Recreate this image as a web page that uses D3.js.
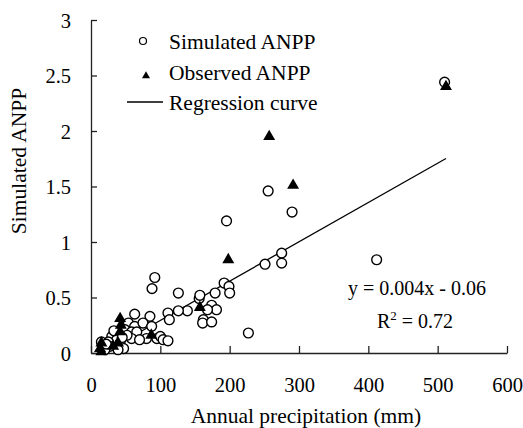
<!DOCTYPE html>
<html>
<head>
<meta charset="utf-8">
<script src="https://cdn.jsdelivr.net/npm/d3@7"></script>
<style>
  html, body { margin: 0; padding: 0; background: #fff; }
  svg { display: block; }
  text { font-family: "Liberation Serif", "Times New Roman", serif; fill: #000; }
</style>
</head>
<body>
<svg id="chart" width="523" height="428"></svg>
<script>
// ---- data ----
const simulatedX = [510, 412, 290, 255.5, 195.5, 275, 275, 251, 227, 192, 199, 200, 179, 156, 157,
  174, 181, 168, 162, 161, 174, 126, 139, 126, 111, 113, 92, 88, 85, 63, 54, 63, 75, 87.5,
  49, 58.6, 66, 80, 95, 100, 104, 111, 30, 37, 25, 42, 47, 39, 27, 15, 58.6, 17, 20,
  22, 33, 52, 70, 45];
const simulatedY = [2.44, 0.84, 1.27, 1.46, 1.19, 0.90, 0.81, 0.80, 0.18, 0.63, 0.60, 0.54, 0.54, 0.49, 0.52,
  0.43, 0.39, 0.39, 0.30, 0.27, 0.28, 0.54, 0.38, 0.38, 0.36, 0.30, 0.68, 0.58, 0.33, 0.35, 0.27, 0.24, 0.27, 0.24,
  0.21, 0.19, 0.19, 0.13, 0.13, 0.15, 0.12, 0.11, 0.15, 0.12, 0.10, 0.09, 0.04, 0.03, 0.06, 0.10, 0.13, 0.06, 0.03,
  0.08, 0.20, 0.16, 0.12, 0.14];
const observedX = [512, 257, 291.5, 198, 157, 87, 42, 43, 42, 39, 32, 15, 13, 15];
const observedY = [2.40, 1.95, 1.51, 0.84, 0.41, 0.16, 0.31, 0.25, 0.19, 0.09, 0.06, 0.09, 0.04, 0.01];
const regressionSlope = 0.00354;
const regressionIntercept = -0.06;
const regressionXRange = [17, 512];
const xTicks = [0, 100, 200, 300, 400, 500, 600];
const yTicks = [0, 0.5, 1, 1.5, 2, 2.5, 3];
const legendLabels = ["Simulated ANPP", "Observed ANPP", "Regression curve"];
const xTitle = "Annual precipitation (mm)";
const yTitle = "Simulated ANPP";
const equationText = "y = 0.004x - 0.06";
const r2Value = "0.72";

// ---- drawing ----
const svg = d3.select("#chart");
const x = d3.scaleLinear().domain([0, 600]).range([91, 507]);
const y = d3.scaleLinear().domain([0, 3]).range([353, 20]);

// axes
const xAxis = d3.axisBottom(x).tickValues(xTicks).tickSizeInner(-7).tickSizeOuter(0).tickPadding(0).tickFormat(d3.format("d"));
const gx = svg.append("g").attr("transform", `translate(0,${y(0)})`).call(xAxis);
gx.select(".domain").attr("stroke", "#222").attr("stroke-width", 1.3);
gx.selectAll(".tick line").attr("stroke", "#222").attr("stroke-width", 1.3);
gx.selectAll(".tick text").attr("font-size", 20.5).attr("font-family", "Liberation Serif").attr("dy", null).attr("y", 39);

const yAxis = d3.axisLeft(y).tickValues(yTicks).tickSizeInner(-6).tickSizeOuter(0).tickPadding(0).tickFormat(d => d3.format("")(d));
const gy = svg.append("g").attr("transform", `translate(${x(0)},0)`).call(yAxis);
gy.select(".domain").attr("stroke", "#222").attr("stroke-width", 1.3);
gy.selectAll(".tick line").attr("stroke", "#222").attr("stroke-width", 1.3);
gy.selectAll(".tick text").attr("font-size", 20.5).attr("font-family", "Liberation Serif").attr("x", -20).attr("dy", "0.35em");

// regression line
const line = d3.line().x(d => x(d)).y(d => y(regressionSlope * d + regressionIntercept));
svg.append("path").datum(regressionXRange).attr("d", line)
  .attr("fill", "none").attr("stroke", "#000").attr("stroke-width", 1.3);

// simulated points
const simData = simulatedX.map((v, i) => ({ x: v, y: simulatedY[i] }));
svg.append("g").selectAll("circle").data(simData).join("circle")
  .attr("cx", d => x(d.x)).attr("cy", d => y(d.y)).attr("r", 4.9)
  .attr("fill", "#fff").attr("stroke", "#000").attr("stroke-width", 1.4);

// observed points
const obsData = observedX.map((v, i) => ({ x: v, y: observedY[i] }));
const tri = d3.symbol().type(d3.symbolTriangle).size(62);
svg.append("g").selectAll("path").data(obsData).join("path")
  .attr("d", tri).attr("transform", d => `translate(${x(d.x)},${y(d.y)})`)
  .attr("fill", "#000");

// legend
const lg = svg.append("g");
lg.append("circle").attr("cx", 143).attr("cy", 41).attr("r", 3.5)
  .attr("fill", "#fff").attr("stroke", "#000").attr("stroke-width", 1.2);
lg.append("path").attr("d", d3.symbol().type(d3.symbolTriangle).size(28)())
  .attr("transform", "translate(146,76)").attr("fill", "#000");
lg.append("line").attr("x1", 127).attr("x2", 163).attr("y1", 102).attr("y2", 102)
  .attr("stroke", "#000").attr("stroke-width", 1.3);
lg.selectAll("text").data(legendLabels).join("text")
  .attr("x", 169).attr("y", (d, i) => 49 + i * 30.5)
  .attr("font-size", 21.5).text(d => d);

// equation annotation
svg.append("text").attr("x", 486).attr("y", 295).attr("text-anchor", "end")
  .attr("font-size", 20).text(equationText);
const r2 = svg.append("text").attr("x", 453).attr("y", 328).attr("text-anchor", "end").attr("font-size", 20);
r2.append("tspan").text("R");
r2.append("tspan").attr("font-size", 13).attr("dy", -8).text("2");
r2.append("tspan").attr("dy", 8).text(" = " + r2Value);

// axis titles
svg.append("text").attr("x", x(310)).attr("y", 423).attr("text-anchor", "middle")
  .attr("font-size", 21.5).text(xTitle);
svg.append("text").attr("transform", "translate(26,161) rotate(-90)").attr("text-anchor", "middle")
  .attr("font-size", 21.5).text(yTitle);
</script>
</body>
</html>
